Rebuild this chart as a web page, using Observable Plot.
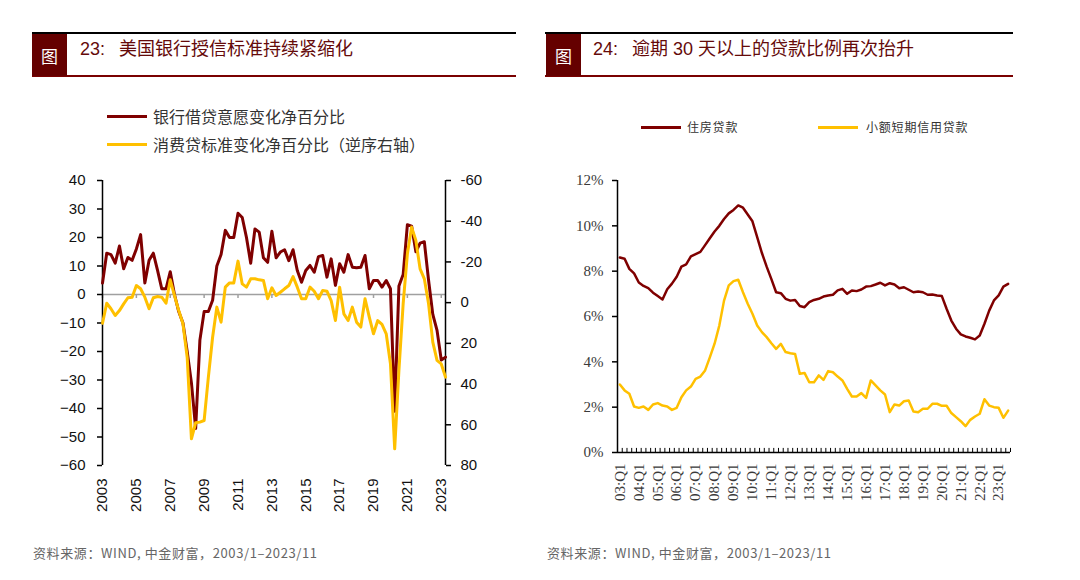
<!DOCTYPE html>
<html><head><meta charset="utf-8">
<script src="https://cdn.jsdelivr.net/npm/d3@7"></script>
<script src="https://cdn.jsdelivr.net/npm/@observablehq/plot@0.6"></script>
<style>
html,body{margin:0;padding:0;background:#fff;}
body{width:1080px;height:580px;position:relative;overflow:hidden;font-family:"Liberation Sans",Arial,sans-serif;}
.plotwrap{position:absolute;top:0;}
.ov{position:absolute;white-space:nowrap;line-height:1;}
.hline{position:absolute;height:2px;}
.box{position:absolute;background:#650000;color:#fff;font-family:"Noto Sans CJK SC";font-size:17px;display:flex;align-items:center;justify-content:center;width:35px;height:42px;top:34px;}
.title{top:38px;color:#650a0a;font-size:18px;}
.title .cn{font-family:"Noto Sans CJK SC";}
.leg{font-family:"Noto Sans CJK SC";color:#333;}
.cap{top:546px;font-family:"Noto Sans CJK SC","Liberation Sans";color:#666;font-size:13px;letter-spacing:0.6px;}
</style>
</head><body>
<div id="left" class="plotwrap" style="left:0"></div>
<div id="right" class="plotwrap" style="left:540px"></div>

<!-- headers -->
<div class="hline" style="left:32px;width:484px;top:32px;background:#000"></div>
<div class="hline" style="left:32px;width:484px;top:75px;background:#7a0000"></div>
<div class="box" style="left:32px">图</div>
<div class="ov title" style="left:80px">23:<span class="cn" style="margin-left:14px">美国银行授信标准持续紧缩化</span></div>

<div class="hline" style="left:545px;width:468px;top:32px;background:#000"></div>
<div class="hline" style="left:545px;width:468px;top:75px;background:#7a0000"></div>
<div class="box" style="left:546px">图</div>
<div class="ov title" style="left:593px">24:<span class="cn" style="margin-left:14px">逾期</span> 30 <span class="cn">天以上的贷款比例再次抬升</span></div>

<!-- legends -->
<div class="hline" style="left:107px;width:40px;top:115px;height:3px;background:#7f0000"></div>
<div class="ov leg" style="left:153px;top:108px;font-size:16px">银行借贷意愿变化净百分比</div>
<div class="hline" style="left:107px;width:40px;top:143px;height:3px;background:#ffc000"></div>
<div class="ov leg" style="left:153px;top:136px;font-size:16px">消费贷标准变化净百分比（逆序右轴）</div>

<div class="hline" style="left:641px;width:40px;top:126px;height:3px;background:#7f0000"></div>
<div class="ov leg" style="left:687px;top:121px;font-size:12px;letter-spacing:0.8px">住房贷款</div>
<div class="hline" style="left:818px;width:40px;top:126px;height:3px;background:#ffc000"></div>
<div class="ov leg" style="left:866px;top:121px;font-size:12px;letter-spacing:0.8px">小额短期信用贷款</div>

<!-- captions -->
<div class="ov cap" style="left:33px">资料来源：WIND, 中金财富，2003/1–2023/11</div>
<div class="ov cap" style="left:547px">资料来源：WIND, 中金财富，2003/1–2023/11</div>

<script>
// ---------- Left chart data (quarterly from 2003Q1) ----------
const leftStartYear = 2003;
const willingness = [4,14.5,14,11, 17,9,13,12, 16,21,4,12, 14.5,8.5,2,2, 8,0,-6,-10, -20,-31,-47,-16,
  -6,-6,-2,10, 14,22.5,20,20, 28.5,27,20,11, 23,21.9,12.9,11.3, 22.2,12.9,14.9,15.7, 11.9,15.7,8.4,4.3,
  8.4,10.2,7.8,13.3, 13.7,6.1,12.5,3.2, 10.8,7.8,14,9.6, 9.4,9.6,13.7,2, 4.9,4.9,2.6,4.9,
  2,-41,3,7, 24.5,24,15,18, 18.5,5,-7,-12.6, -23,-22];
const standards = [10.1,0.3,3.0,6.3, 3.9,0.6,-2.4,-2.7, -8.4,-6.8,-2.7,3.0, -2.4,-3.0,-2.7,0.3,
  -11.2,-3.5,3.9,10.4, 26.8,66.9,59,58.7, 57.9,36.6,17,2.2, 9.6,-7.6,-9.7,-9.7, -20.4,-9.2,-7.6,-11.7,
  -11.7,-11.2,-10.9,-1.9, -7.3,-3.5,-5.1,-6.8, -8.4,-12.8,-7.6,-1.9, -1.9,-7.6,-5.6,-1.9, -6.0,-5.6,-1.0,8.8,
  -7.6,5.5,8.8,2.2, 9.6,12.0,-1.9,7.1, 15.3,8.8,10.7,15.3, 30,71.8,33.3,0.6, -24.0,-37.1,-30.5,-16.6,
  -11.7,0.6,19.4,28.4, 30.1,36.6];
const yearLabels = [2003,2005,2007,2009,2011,2013,2015,2017,2019,2021,2023];
const leftTicks = [-60,-50,-40,-30,-20,-10,0,10,20,30,40];
const rightTicks = [-60,-40,-20,0,20,40,60,80];

// ---------- Right chart data (quarterly from 03:Q1) ----------
const housing = [8.6,8.55,8.1,7.9, 7.5,7.35,7.25,7.05, 6.9,6.75,7.2,7.45, 7.75,8.2,8.3,8.65,
  8.75,8.85,9.15,9.45, 9.75,10.0,10.3,10.55, 10.7,10.9,10.8,10.5, 10.2,9.5,8.8,8.2,
  7.65,7.07,7.03,6.78, 6.7,6.73,6.46,6.41, 6.63,6.73,6.78,6.88, 6.93,6.96,7.15,7.22,
  7.0,7.15,7.12,7.19, 7.32,7.34,7.41,7.49, 7.37,7.47,7.41,7.25, 7.29,7.18,7.07,7.1,
  7.07,6.96,6.97,6.93, 6.9,6.34,5.82,5.46, 5.21,5.12,5.06,4.99, 5.16,5.68,6.26,6.71,
  6.93,7.32,7.44];
const smallCredit = [3.0,2.74,2.59,2.03, 1.97,2.03,1.88,2.12, 2.18,2.07,2.03,1.88, 1.97,2.44,2.74,2.91,
  3.25,3.35,3.62,4.2, 4.8,5.6,6.7,7.37, 7.56,7.62,7.07,6.56, 6.12,5.6,5.31,5.09,
  4.82,4.57,4.79,4.43, 4.38,4.35,3.47,3.51, 3.1,3.1,3.4,3.2, 3.59,3.54,3.35,3.18,
  2.81,2.47,2.47,2.62, 2.41,3.18,2.96,2.74, 2.56,1.78,2.12,2.07, 2.26,2.29,1.81,1.78,
  1.93,1.93,2.15,2.15, 2.06,2.06,1.74,1.56, 1.38,1.16,1.44,1.59, 1.71,2.35,2.07,2.0,
  1.97,1.53,1.85];
const quarterLabels = ["03:Q1","04:Q1","05:Q1","06:Q1","07:Q1","08:Q1","09:Q1","10:Q1","11:Q1","12:Q1",
  "13:Q1","14:Q1","15:Q1","16:Q1","17:Q1","18:Q1","19:Q1","20:Q1","21:Q1","22:Q1","23:Q1"];
const pctTicks = [0,2,4,6,8,10,12];

const RED = "#7f0000", GOLD = "#ffc000";

// ---------- Left chart ----------
const lTop = 40, lBot = -60;           // left axis domain
const rTop = -60, rBot = 80;            // right axis (reversed)
const toLeft = r => lTop - (r - rTop) * (lTop - lBot) / (rBot - rTop);
const fromLeft = l => rTop + (lTop - l) * (rBot - rTop) / (lTop - lBot);
const tEnd = leftStartYear + (willingness.length - 1) / 4;

const redL = willingness.map((v, i) => ({t: leftStartYear + i / 4, v}));
const goldL = standards.map((v, i) => ({t: leftStartYear + i / 4, v: toLeft(v)}));

const leftPlot = Plot.plot({
  width: 540, height: 580,
  marginLeft: 102, marginRight: 95, marginTop: 180, marginBottom: 115,
  x: {domain: [leftStartYear, tEnd]},
  y: {domain: [lBot, lTop]},
  style: {fontFamily: "'Liberation Sans', Arial, sans-serif", fontSize: "15px", color: "#111", background: "transparent", overflow: "visible"},
  marks: [
    Plot.ruleY([0], {stroke: "#a0a0a0", strokeWidth: 1.5}),
    Plot.ruleX(yearLabels, {x: d => d, y1: 0, y2: -1.4, stroke: "#a0a0a0", strokeWidth: 1.5}),
    Plot.ruleX([leftStartYear, tEnd], {y1: lBot, y2: lTop, stroke: "#000", strokeWidth: 1.5}),
    Plot.axisY(leftTicks, {anchor: "left", tickSize: 5, tickPadding: 12, label: null, stroke: "#000", strokeWidth: 1.5}),
    Plot.axisY(rightTicks.map(toLeft), {anchor: "right", tickSize: 5, tickPadding: 10, label: null,
      stroke: "#000", strokeWidth: 1.5, tickFormat: v => String(Math.round(fromLeft(v)))}),
    Plot.axisX(yearLabels, {anchor: "bottom", tickSize: 0, tickPadding: 13, tickRotate: -90, label: null, tickFormat: d => String(d)}),
    Plot.line(redL, {x: "t", y: "v", stroke: RED, strokeWidth: 3}),
    Plot.line(goldL, {x: "t", y: "v", stroke: GOLD, strokeWidth: 3})
  ]
});
document.getElementById("left").appendChild(leftPlot);

// ---------- Right chart ----------
const n = housing.length;
const hData = housing.map((v, i) => ({i, v}));
const cData = smallCredit.map((v, i) => ({i, v}));
const bounds = d3.range(n + 1).map(k => k - 0.5);
const labelIdx = quarterLabels.map((_, k) => k * 4);

const rightPlot = Plot.plot({
  width: 540, height: 580,
  marginLeft: 77, marginRight: 70, marginTop: 180, marginBottom: 128,
  x: {domain: [-0.5, n - 0.5]},
  y: {domain: [0, 12]},
  style: {fontFamily: "'Liberation Serif', 'Times New Roman', serif", fontSize: "15px", color: "#3a3a3a", background: "transparent", overflow: "visible"},
  marks: [
    Plot.ruleX(bounds, {x: d => d, y1: 0, y2: 0.18, stroke: "#000", strokeWidth: 1}),
    Plot.ruleY([0], {stroke: "#000", strokeWidth: 1.5}),
    Plot.ruleX([-0.5], {y1: 0, y2: 12, stroke: "#000", strokeWidth: 1.5}),
    Plot.axisY(pctTicks, {anchor: "left", tickSize: 5, tickPadding: 9, label: null, stroke: "#000", strokeWidth: 1.5, tickFormat: d => d + "%"}),
    Plot.axisX(labelIdx, {anchor: "bottom", tickSize: 0, tickPadding: 11, tickRotate: -90, label: null, tickFormat: i => quarterLabels[i / 4]}),
    Plot.line(hData, {x: "i", y: "v", stroke: RED, strokeWidth: 2.5}),
    Plot.line(cData, {x: "i", y: "v", stroke: GOLD, strokeWidth: 2.5})
  ]
});
document.getElementById("right").appendChild(rightPlot);
</script>
</body></html>
